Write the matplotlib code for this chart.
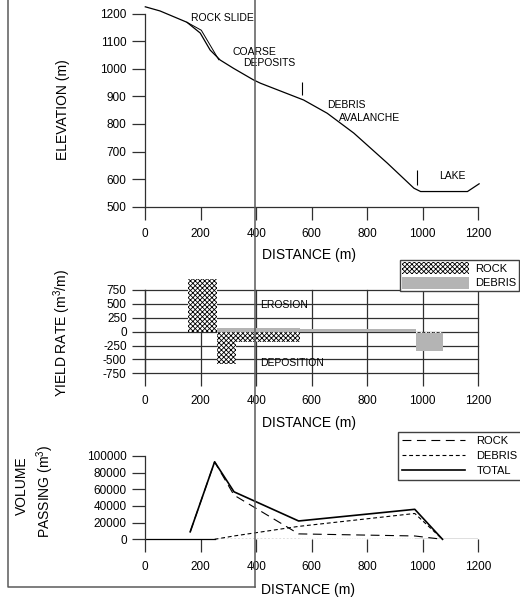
import numpy as np
import matplotlib
matplotlib.use('Agg')
import matplotlib.pyplot as plt
from matplotlib.patches import Patch
from matplotlib.lines import Line2D

plt.rcParams['font.family'] = ['Liberation Sans', 'DejaVu Sans']
plt.rcParams['mathtext.default'] = 'regular'
plt.rcParams['axes.unicode_minus'] = False
plt.rcParams['hatch.linewidth'] = 0.6

# elevation profile (m)
prof_x = [0, 53, 150, 198, 234, 270, 318, 390, 415, 571, 656, 752, 873, 969, 993, 1162, 1204]
prof_z = [1225, 1210, 1169, 1130, 1068, 1032, 1002, 960, 948, 887, 839, 767, 658, 567, 555, 555, 583]
slide_x = [150, 202, 265]
slide_z = [1169, 1140, 1033]
marker_x = [566, 979]
marker_lo = [906, 580]
marker_hi = [954, 634]

# yield rate (m3/m), segments along the path
rock_start = [155, 258, 327, 975]
rock_end = [258, 327, 557, 1075]
rock_rate = [940, -590, -190, -30]
debris_start = [258, 557, 975]
debris_end = [557, 978, 1075]
debris_rate = [60, 40, -340]

# volume passing (m3)
vol_x = [162, 250, 320, 553, 972, 1072]
vol_rock = [9000, 93000, 53000, 6500, 4000, 0]
vol_debris_x = [250, 320, 553, 972, 1072]
vol_debris = [0, 4000, 15500, 31000, 0]
vol_total = [9000, 93000, 57000, 22000, 36000, 0]

xticks = [0, 200, 400, 600, 800, 1000, 1200]

W, H = 520, 600
fig = plt.figure(figsize=(5.2, 6.0), dpi=100)

def px_rect(x0, y0, x1, y1):
    return [x0 / W, 1 - y1 / H, (x1 - x0) / W, (y1 - y0) / H]

ax1 = fig.add_axes(px_rect(145.3, 13.7, 478, 206.7))
ax2 = fig.add_axes(px_rect(145.3, 290, 478, 373.3))
ax3 = fig.add_axes(px_rect(145.3, 456, 478, 539.3))

axcol = '#303030'
for ax in (ax1, ax2, ax3):
    ax.set_xlim(0, 1200)
    ax.set_xticks(xticks)
    ax.spines['top'].set_visible(False)
    ax.spines['right'].set_visible(False)
    for s in ('left', 'bottom'):
        ax.spines[s].set_color(axcol)
        ax.spines[s].set_linewidth(0.9)
    ax.tick_params(direction='out', length=9.4, width=0.9, color=axcol,
                   labelsize=8.5, labelcolor='black')
    ax.tick_params(axis='x', pad=6)
    ax.tick_params(axis='y', pad=4)

# --- elevation
ax1.set_ylim(500, 1200)
ax1.set_yticks(range(500, 1201, 100))
ax1.plot(prof_x, prof_z, color='black', lw=0.9, clip_on=False)
ax1.plot(slide_x, slide_z, color='black', lw=0.7, clip_on=False)
ax1.vlines(marker_x, marker_lo, marker_hi, color='black', lw=0.8)
ann = dict(fontsize=7.5, ha='left', va='center')
ax1.text(165, 1184, 'ROCK SLIDE', **ann)
ax1.text(314, 1061, 'COARSE', **ann)
ax1.text(353, 1021, 'DEPOSITS', **ann)
ax1.text(657, 869, 'DEBRIS', **ann)
ax1.text(700, 822, 'AVALANCHE', **ann)
ax1.text(1058, 612, 'LAKE', **ann)

# --- yield rate
rock_hatch = 'xxxxxxx'
ax2.set_ylim(-750, 750)
ax2.set_yticks([750, 500, 250, 0, -250, -500, -750])
ax2.set_axisbelow(True)
ax2.grid(True, color=axcol, lw=0.9)
for gl in ax2.get_ygridlines() + ax2.get_xgridlines():
    gl.set_clip_on(False)
ax2.spines['bottom'].set_visible(False)
d_w = np.array(debris_end) - np.array(debris_start)
r_w = np.array(rock_end) - np.array(rock_start)
ax2.bar(debris_start, debris_rate, width=d_w, align='edge',
        color='#b4b4b4', lw=0, clip_on=False)
ax2.bar(rock_start, rock_rate, width=r_w, align='edge', facecolor='white',
        edgecolor='black', hatch=rock_hatch, lw=0, clip_on=False)
ax2.text(415, 480, 'EROSION', fontsize=7.5, ha='left', va='center')
ax2.text(415, -564, 'DEPOSITION', fontsize=7.5, ha='left', va='center')

ax2.legend(handles=[Patch(facecolor='white', edgecolor='black', hatch=rock_hatch, lw=0),
                    Patch(facecolor='#b4b4b4', lw=0)],
           labels=['ROCK', 'DEBRIS'], loc='upper left',
           bbox_to_anchor=(400 / W, 1 - 260 / H), bbox_transform=fig.transFigure,
           fontsize=8, frameon=True, fancybox=False, edgecolor='#404040',
           framealpha=1, borderpad=0.2, borderaxespad=0, handlelength=6,
           handleheight=1.25, handletextpad=0.6, labelspacing=0.25)

# --- volume passing
ax3.set_ylim(0, 100000)
ax3.set_yticks(range(0, 100001, 20000))
ax3.spines['bottom'].set_visible(False)
ax3.plot([0, vol_debris_x[0]], [0, 0], color='black', lw=0.9, clip_on=False)
ax3.plot([vol_debris_x[0], vol_x[3]], [0, 0], color='black', lw=0.9, ls=(0, (1.5, 1.5)))
ax3.plot([vol_x[3], vol_x[4]], [0, 0], color='#999999', lw=0.9, ls=(0, (1, 1)))
ax3.plot([vol_x[4], 1200], [0, 0], color='black', lw=0.9)
ax3.plot(vol_x, vol_rock, color='black', lw=0.8, ls=(0, (8, 5)), clip_on=False, label='ROCK')
ax3.plot(vol_debris_x, vol_debris, color='black', lw=0.8, ls=(0, (3.5, 2.5)), clip_on=False, label='DEBRIS')
ax3.plot(vol_x, vol_total, color='black', lw=1.2, clip_on=False, label='TOTAL')
ax3.legend(loc='upper left', bbox_to_anchor=(398 / W, 1 - 432 / H),
           bbox_transform=fig.transFigure, fontsize=8, frameon=True,
           fancybox=False, edgecolor='#404040', framealpha=1, borderpad=0.35,
           borderaxespad=0, handlelength=5.7, handletextpad=1.0, labelspacing=0.45)

# axis titles
fig.text(309 / W, 1 - 255 / H, 'DISTANCE (m)', fontsize=10, ha='center', va='center')
fig.text(309 / W, 1 - 423 / H, 'DISTANCE (m)', fontsize=10, ha='center', va='center')
fig.text(308 / W, 1 - 590 / H, 'DISTANCE (m)', fontsize=10, ha='center', va='center')
fig.text(62.5 / W, 1 - 110 / H, 'ELEVATION (m)', fontsize=10, rotation=90, ha='center', va='center')
fig.text(62 / W, 1 - 333 / H, 'YIELD RATE (m$^3$/m)', fontsize=10, rotation=90, ha='center', va='center')
fig.text(21.7 / W, 1 - 486 / H, 'VOLUME', fontsize=10, rotation=90, ha='center', va='center')
fig.text(45 / W, 1 - 491 / H, 'PASSING (m$^3$)', fontsize=10, rotation=90, ha='center', va='center')

# scanned page frame lines
frame = dict(color='#5a5a5a', lw=1.1, transform=fig.transFigure)
fig.add_artist(Line2D([7.5 / W, 7.5 / W, 254.5 / W], [1, 1 - 586.5 / H, 1 - 586.5 / H], **frame))
fig.add_artist(Line2D([254.5 / W, 254.5 / W], [1, 1 - 586.5 / H], **frame))

fig.savefig('out.png', dpi=100)
